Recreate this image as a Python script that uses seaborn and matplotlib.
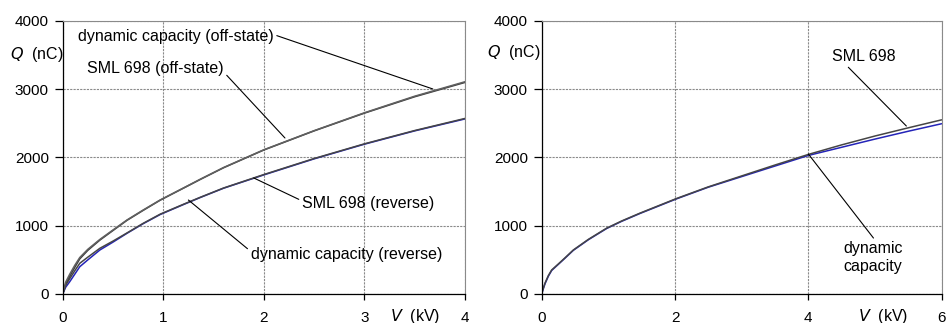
import matplotlib
matplotlib.use("Agg")
import matplotlib.pyplot as plt
import seaborn as sns
import pandas as pd

# ---- data ----
v_left = [0, 0.03, 0.07, 0.12, 0.17, 0.25, 0.37, 0.5, 0.64, 0.8, 0.97, 1.2, 1.37, 1.6, 2, 2.5, 3, 3.5, 4]
q_dyn_off = [0, 150, 260, 390, 515, 640, 790, 930, 1080, 1225, 1375, 1550, 1680, 1850, 2110, 2390, 2650, 2890, 3100]
q_sml_off = [0, 175, 290, 420, 535, 655, 800, 938, 1085, 1230, 1378, 1553, 1683, 1853, 2113, 2393, 2655, 2898, 3110]
q_dyn_rev = [0, 100, 180, 290, 400, 500, 645, 760, 890, 1030, 1165, 1310, 1415, 1550, 1745, 1980, 2195, 2390, 2565]
q_sml_rev = [0, 130, 225, 340, 450, 540, 670, 775, 895, 1035, 1170, 1314, 1418, 1553, 1750, 1985, 2200, 2395, 2572]

v_right = [0, 0.02, 0.05, 0.1, 0.15, 0.25, 0.35, 0.475, 0.7, 0.975, 1.2, 1.475, 2.025, 2.5, 3, 3.5, 4, 4.5, 5, 5.5, 6]
q_sml = [0, 70, 160, 270, 352, 440, 530, 645, 800, 965, 1070, 1185, 1400, 1570, 1730, 1890, 2045, 2185, 2315, 2435, 2552]
q_dyn = [0, 65, 150, 260, 345, 435, 525, 640, 795, 960, 1065, 1180, 1395, 1565, 1720, 1875, 2030, 2150, 2270, 2385, 2495]

x_ticks_left = [0, 1, 2, 3, 4]
x_ticks_right = [0, 2, 4, 6]
y_ticks = [0, 1000, 2000, 3000, 4000]

sns.set_style("white")
plt.rcParams['font.family'] = ['Liberation Sans', 'DejaVu Sans']
plt.rcParams['text.color'] = 'black'
FS = 11.5

fig = plt.figure(figsize=(9.47, 3.23), dpi=100)
axL = fig.add_axes([0.0662, 0.0898, 0.4248, 0.8452])
axR = fig.add_axes([0.572, 0.0898, 0.4224, 0.8452])

dfL = pd.concat([
    pd.DataFrame({"V": v_left, "Q": q_dyn_rev, "s": "dyn_rev"}),
    pd.DataFrame({"V": v_left, "Q": q_sml_rev, "s": "sml_rev"}),
    pd.DataFrame({"V": v_left, "Q": q_dyn_off, "s": "dyn_off"}),
    pd.DataFrame({"V": v_left, "Q": q_sml_off, "s": "sml_off"}),
])
dfR = pd.concat([
    pd.DataFrame({"V": v_right, "Q": q_dyn, "s": "dyn"}),
    pd.DataFrame({"V": v_right, "Q": q_sml, "s": "sml"}),
])

palL = {"dyn_off": "#3c3c3c", "sml_off": "#606060", "sml_rev": "#454545", "dyn_rev": "#2424b8"}
palR = {"sml": "#454545", "dyn": "#2424b8"}

sns.lineplot(data=dfL, x="V", y="Q", hue="s", palette=palL, ax=axL, legend=False,
             hue_order=["dyn_rev", "sml_rev", "dyn_off", "sml_off"],
             linewidth=1.1, sort=False)
sns.lineplot(data=dfR, x="V", y="Q", hue="s", palette=palR, ax=axR, legend=False,
             hue_order=["dyn", "sml"], linewidth=1.1, sort=False)

for ax, xmax, xt in [(axL, 4, x_ticks_left), (axR, 6, x_ticks_right)]:
    ax.set_xlim(0, xmax)
    ax.set_ylim(0, 4000)
    ax.set_xticks(xt)
    ax.set_yticks(y_ticks)
    ax.set_xlabel("")
    ax.set_ylabel("")
    ax.grid(True, color="#8a8a8a", linewidth=0.8, linestyle=(0, (2, 1)))
    ax.set_axisbelow(True)
    for sp in ["top", "right"]:
        ax.spines[sp].set_color("#8a8a8a")
        ax.spines[sp].set_linewidth(0.8)
    for sp in ["left", "bottom"]:
        ax.spines[sp].set_color("black")
        ax.spines[sp].set_linewidth(0.9)
    ax.tick_params(axis="y", direction="out", length=6, width=0.9, pad=4,
                   left=True, labelsize=11, colors="black")
    ax.tick_params(axis="x", direction="out", length=4, width=0.9, pad=8.5,
                   bottom=True, labelsize=11, colors="black")

fig.text(10 / 947, 1 - 55 / 323, r"$Q$  (nC)", ha="left", va="center", fontsize=FS)
fig.text(487 / 947, 1 - 53 / 323, r"$Q$  (nC)", ha="left", va="center", fontsize=FS)

# axis unit labels on the tick row
fig.text(390 / 947, 1 - 317 / 323, r"$V$  (kV)", ha="left", va="center", fontsize=FS)
fig.text(858 / 947, 1 - 317 / 323, r"$V$  (kV)", ha="left", va="center", fontsize=FS)

arrow = dict(arrowstyle="-", color="black", lw=0.8, shrinkA=0, shrinkB=0)

axL.annotate("dynamic capacity (off-state)", xy=(3.68, 3004), xytext=(0.15, 3780),
             ha="left", va="center", arrowprops=dict(arrow, relpos=(1.0, 0.6)), fontsize=FS)
axL.annotate("SML 698 (off-state)", xy=(2.21, 2286), xytext=(0.24, 3300),
             ha="left", va="center", arrowprops=dict(arrow, relpos=(1.0, 0.3)), fontsize=FS)
axL.annotate("SML 698 (reverse)", xy=(1.9, 1700), xytext=(2.38, 1320),
             ha="left", va="center", arrowprops=dict(arrow, relpos=(0.0, 0.7)), fontsize=FS)
axL.annotate("dynamic capacity (reverse)", xy=(1.25, 1377), xytext=(1.87, 580),
             ha="left", va="center", arrowprops=dict(arrow, relpos=(0.0, 0.7)), fontsize=FS)

axR.annotate("SML 698", xy=(5.47, 2461), xytext=(4.36, 3480),
             ha="left", va="center", arrowprops=dict(arrow, relpos=(0.2, 0.0)), fontsize=FS)
axR.annotate("dynamic\ncapacity", xy=(4.0, 2051), xytext=(4.97, 530),
             ha="center", va="center", linespacing=1.25,
             arrowprops=dict(arrow, relpos=(0.55, 1.0)), fontsize=FS)

fig.savefig("out.png", dpi=100)
